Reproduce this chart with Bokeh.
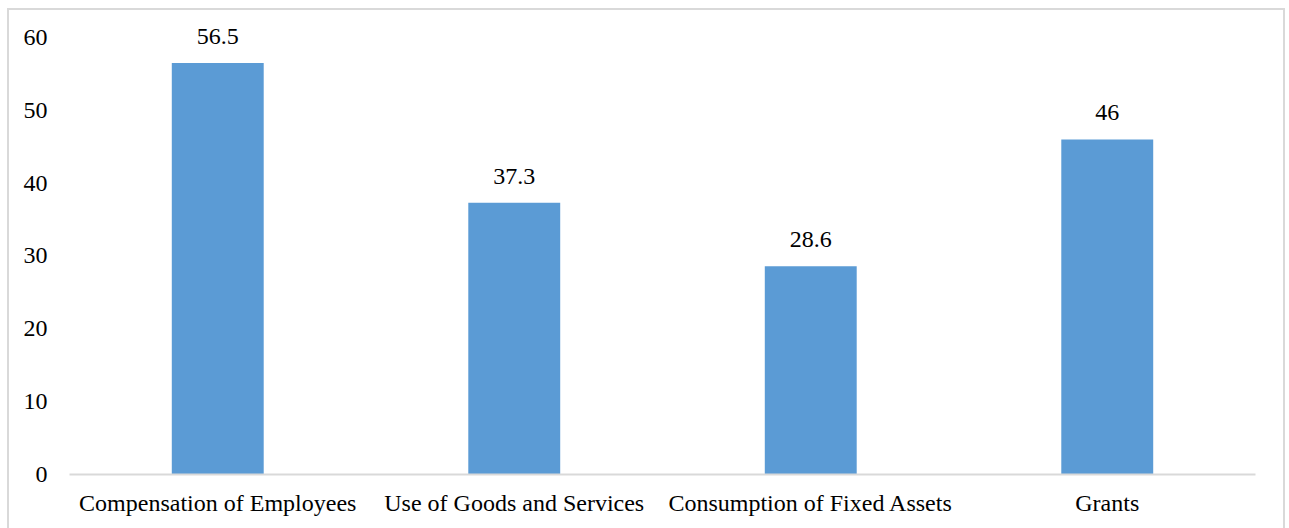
from bokeh.plotting import figure
from bokeh.models import ColumnDataSource, LabelSet, FixedTicker
from bokeh.embed import file_html
from bokeh.resources import INLINE

categories = ["Compensation of Employees", "Use of Goods and Services",
              "Consumption of Fixed Assets", "Grants"]
values = [56.5, 37.3, 28.6, 46]
value_labels = ["56.5", "37.3", "28.6", "46"]
y_ticks = [0, 10, 20, 30, 40, 50, 60]

FONT = "Liberation Serif"
FS = "24px"

source = ColumnDataSource(dict(cat=categories, val=values, lab=value_labels))

p = figure(x_range=categories, y_range=(0, 63.7), width=1278, height=520,
           output_backend="svg", toolbar_location=None,
           min_border_left=60, min_border_right=32, min_border_top=0, min_border_bottom=56,
           margin=(8, 0, 0, 7),
           styles={"border-top": "2px solid #d9d9d9", "border-left": "2px solid #d9d9d9",
                   "border-right": "2px solid #d9d9d9", "box-sizing": "border-box"})

p.vbar(x="cat", top="val", width=0.31, source=source, fill_color="#5B9BD5", line_color=None)

labels = LabelSet(x="cat", y="val", text="lab", source=source, text_align="center",
                  text_baseline="alphabetic", y_offset=19, text_font=FONT,
                  text_font_size=FS, text_color="#000000")
p.add_layout(labels)

p.outline_line_color = None
p.xgrid.grid_line_color = None
p.ygrid.grid_line_color = None

p.yaxis.ticker = FixedTicker(ticks=y_ticks)
p.yaxis.axis_line_color = None
p.yaxis.major_tick_line_color = None
p.yaxis.minor_tick_line_color = None
p.yaxis.major_label_standoff = 16
p.yaxis.major_label_text_font = FONT
p.yaxis.major_label_text_font_size = FS
p.yaxis.major_label_text_color = "#000000"

p.xaxis.axis_line_color = "#d9d9d9"
p.xaxis.axis_line_width = 2
p.xaxis.major_tick_line_color = None
p.xaxis.minor_tick_line_color = None
p.xaxis.major_label_standoff = 9
p.xaxis.major_label_text_font = FONT
p.xaxis.major_label_text_font_size = FS
p.xaxis.major_label_text_color = "#000000"
p.x_range.range_padding = 0

open("out.html", "w").write(file_html(p, INLINE))
